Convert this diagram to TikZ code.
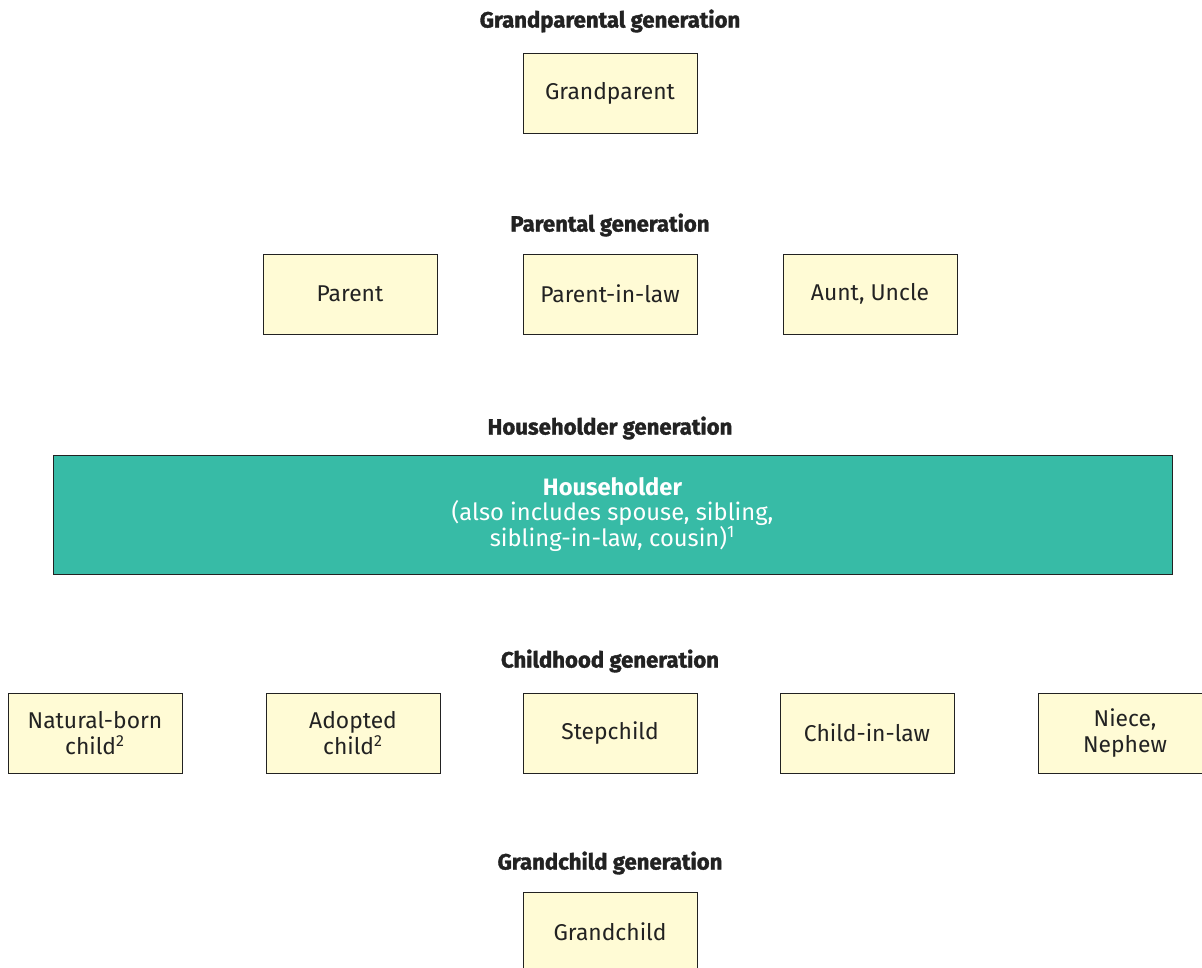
\documentclass[tikz,border=0pt]{standalone}
\usepackage{fontspec}
\setmainfont{Fira Sans}
\newfontfamily\genfont[BoldFeatures={FakeBold=1.5}]{Fira Sans}
\definecolor{boxfill}{HTML}{FFFBD5}
\definecolor{teal}{HTML}{37BBA6}
\definecolor{textgray}{HTML}{222222}
\tikzset{
  gen/.style={font=\genfont\bfseries\fontsize{12.6}{14}\selectfont, text=textgray},
  member/.style={draw=textgray, fill=boxfill, minimum width=3.48cm, minimum height=1.6cm,
    align=center, text=textgray, font=\fontsize{13}{14.5}\selectfont, inner sep=0pt}
}
\begin{document}
\begin{tikzpicture}[x=0.02cm, y=-0.02cm]
        \useasboundingbox (0, 0) rectangle (1202, 967);
        \clip (0, 0) rectangle (1202, 967);

        % generation titles
        \node[gen] at (610, 21)  (tgp)  {Grandparental generation};
        \node[gen] at (610, 225) (tp)   {Parental generation};
        \node[gen] at (610, 428) (th)   {Householder generation};
        \node[gen] at (610, 661) (tc)   {Childhood generation};
        \node[gen] at (610, 863) (tg)   {Grandchild generation};

        \node[member] at (610, 93.5) (gparent) {Grandparent};

        \node[member] at (350, 294)  (parent)  {Parent};
        \node[member] at (610, 294)  (pinlaw)  {Parent-in-law};
        \node[member] at (870, 294)  (aunt)    {Aunt, Uncle};

        % householder
        \node[draw=textgray, fill=teal, text=white, align=center, minimum width=22.38cm,
              minimum height=2.38cm, inner sep=0pt, font=\fontsize{13.5}{14.5}\selectfont]
              at (612.5, 514.5) (house)
              {\textbf{Householder}\\(also includes spouse, sibling,\\sibling-in-law, cousin)\textsuperscript{1}};

        \node[member] at (95, 733)   (natural) {Natural-born\\child\textsuperscript{2}};
        \node[member] at (353, 733)  (adopted) {Adopted\\child\textsuperscript{2}};
        \node[member] at (610, 733)  (step)    {Stepchild};
        \node[member] at (867, 733)  (cinlaw)  {Child-in-law};
        \node[member] at (1125, 733) (niece)   {Niece,\\Nephew};

        \node[member] at (610, 932)  (gchild)  {Grandchild};

    \end{tikzpicture}
\end{document}
